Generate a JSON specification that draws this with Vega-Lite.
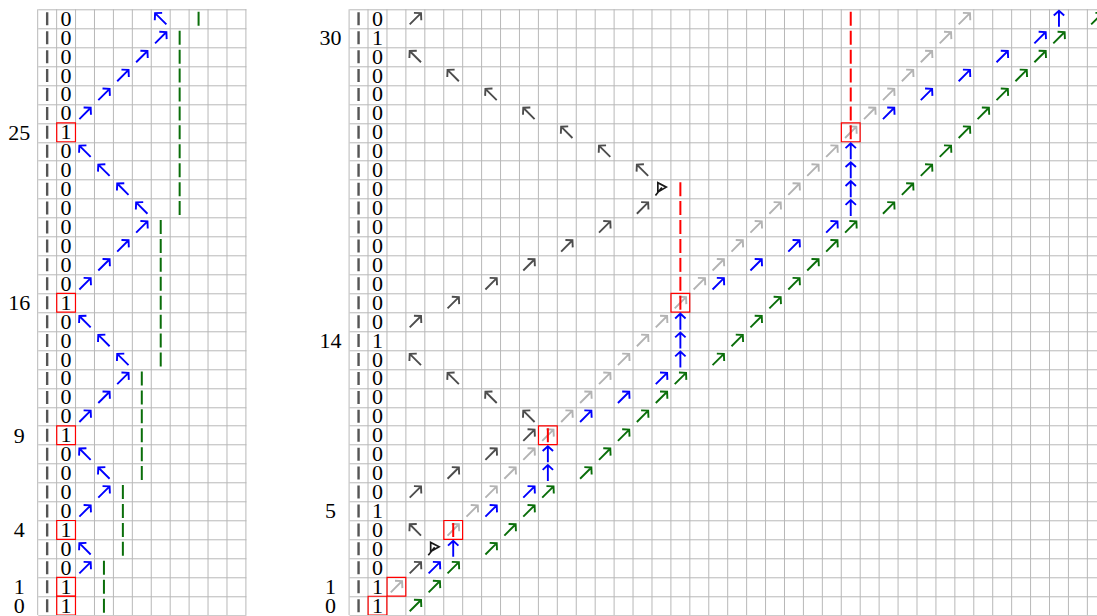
{
  "$schema": "https://vega.github.io/schema/vega-lite/v6.json",
  "padding": {"left": 7.7, "top": 8.3, "right": 0, "bottom": 0},
  "background": "white",
  "config": {"view": {"stroke": null}},
  "spacing": 102.4,
  "bounds": "flush",
  "datasets": {
    "vlines": [
      {"p":"L","g":-0.5},{"p":"L","g":0.5},{"p":"L","g":1.5},{"p":"L","g":2.5},{"p":"L","g":3.5},{"p":"L","g":4.5},
      {"p":"L","g":5.5},{"p":"L","g":6.5},{"p":"L","g":7.5},{"p":"L","g":8.5},{"p":"L","g":9.5},{"p":"L","g":10.5},
      {"p":"R","g":-0.5},{"p":"R","g":0.5},{"p":"R","g":1.5},{"p":"R","g":2.5},{"p":"R","g":3.5},{"p":"R","g":4.5},
      {"p":"R","g":5.5},{"p":"R","g":6.5},{"p":"R","g":7.5},{"p":"R","g":8.5},{"p":"R","g":9.5},{"p":"R","g":10.5},
      {"p":"R","g":11.5},{"p":"R","g":12.5},{"p":"R","g":13.5},{"p":"R","g":14.5},{"p":"R","g":15.5},{"p":"R","g":16.5},
      {"p":"R","g":17.5},{"p":"R","g":18.5},{"p":"R","g":19.5},{"p":"R","g":20.5},{"p":"R","g":21.5},{"p":"R","g":22.5},
      {"p":"R","g":23.5},{"p":"R","g":24.5},{"p":"R","g":25.5},{"p":"R","g":26.5},{"p":"R","g":27.5},{"p":"R","g":28.5},
      {"p":"R","g":29.5},{"p":"R","g":30.5},{"p":"R","g":31.5},{"p":"R","g":32.5},{"p":"R","g":33.5},{"p":"R","g":34.5},
      {"p":"R","g":35.5},{"p":"R","g":36.5},{"p":"R","g":37.5},{"p":"R","g":38.5}
    ],
    "digits": [
      {"p":"L","row":0,"d":"1"},{"p":"L","row":1,"d":"1"},{"p":"L","row":2,"d":"0"},{"p":"L","row":3,"d":"0"},
      {"p":"L","row":4,"d":"1"},{"p":"L","row":5,"d":"0"},{"p":"L","row":6,"d":"0"},{"p":"L","row":7,"d":"0"},
      {"p":"L","row":8,"d":"0"},{"p":"L","row":9,"d":"1"},{"p":"L","row":10,"d":"0"},{"p":"L","row":11,"d":"0"},
      {"p":"L","row":12,"d":"0"},{"p":"L","row":13,"d":"0"},{"p":"L","row":14,"d":"0"},{"p":"L","row":15,"d":"0"},
      {"p":"L","row":16,"d":"1"},{"p":"L","row":17,"d":"0"},{"p":"L","row":18,"d":"0"},{"p":"L","row":19,"d":"0"},
      {"p":"L","row":20,"d":"0"},{"p":"L","row":21,"d":"0"},{"p":"L","row":22,"d":"0"},{"p":"L","row":23,"d":"0"},
      {"p":"L","row":24,"d":"0"},{"p":"L","row":25,"d":"1"},{"p":"L","row":26,"d":"0"},{"p":"L","row":27,"d":"0"},
      {"p":"L","row":28,"d":"0"},{"p":"L","row":29,"d":"0"},{"p":"L","row":30,"d":"0"},{"p":"L","row":31,"d":"0"},
      {"p":"R","row":0,"d":"1"},{"p":"R","row":1,"d":"1"},{"p":"R","row":2,"d":"0"},{"p":"R","row":3,"d":"0"},
      {"p":"R","row":4,"d":"0"},{"p":"R","row":5,"d":"1"},{"p":"R","row":6,"d":"0"},{"p":"R","row":7,"d":"0"},
      {"p":"R","row":8,"d":"0"},{"p":"R","row":9,"d":"0"},{"p":"R","row":10,"d":"0"},{"p":"R","row":11,"d":"0"},
      {"p":"R","row":12,"d":"0"},{"p":"R","row":13,"d":"0"},{"p":"R","row":14,"d":"1"},{"p":"R","row":15,"d":"0"},
      {"p":"R","row":16,"d":"0"},{"p":"R","row":17,"d":"0"},{"p":"R","row":18,"d":"0"},{"p":"R","row":19,"d":"0"},
      {"p":"R","row":20,"d":"0"},{"p":"R","row":21,"d":"0"},{"p":"R","row":22,"d":"0"},{"p":"R","row":23,"d":"0"},
      {"p":"R","row":24,"d":"0"},{"p":"R","row":25,"d":"0"},{"p":"R","row":26,"d":"0"},{"p":"R","row":27,"d":"0"},
      {"p":"R","row":28,"d":"0"},{"p":"R","row":29,"d":"0"},{"p":"R","row":30,"d":"1"},{"p":"R","row":31,"d":"0"}
    ],
    "boxes": [
      {"p":"L","col":1,"row":0},{"p":"L","col":1,"row":1},{"p":"L","col":1,"row":4},{"p":"L","col":1,"row":9},
      {"p":"L","col":1,"row":16},{"p":"L","col":1,"row":25},
      {"p":"R","col":1,"row":0},{"p":"R","col":2,"row":1},{"p":"R","col":5,"row":4},{"p":"R","col":10,"row":9},
      {"p":"R","col":17,"row":16},{"p":"R","col":26,"row":25}
    ],
    "marks": [
      {"p":"L","row":2,"col":2,"kind":"blue","dir":"ne"},{"p":"L","row":3,"col":2,"kind":"blue","dir":"nw"},
      {"p":"L","row":5,"col":2,"kind":"blue","dir":"ne"},{"p":"L","row":6,"col":3,"kind":"blue","dir":"ne"},
      {"p":"L","row":7,"col":3,"kind":"blue","dir":"nw"},{"p":"L","row":8,"col":2,"kind":"blue","dir":"nw"},
      {"p":"L","row":10,"col":2,"kind":"blue","dir":"ne"},{"p":"L","row":11,"col":3,"kind":"blue","dir":"ne"},
      {"p":"L","row":12,"col":4,"kind":"blue","dir":"ne"},{"p":"L","row":13,"col":4,"kind":"blue","dir":"nw"},
      {"p":"L","row":14,"col":3,"kind":"blue","dir":"nw"},{"p":"L","row":15,"col":2,"kind":"blue","dir":"nw"},
      {"p":"L","row":17,"col":2,"kind":"blue","dir":"ne"},{"p":"L","row":18,"col":3,"kind":"blue","dir":"ne"},
      {"p":"L","row":19,"col":4,"kind":"blue","dir":"ne"},{"p":"L","row":20,"col":5,"kind":"blue","dir":"ne"},
      {"p":"L","row":21,"col":5,"kind":"blue","dir":"nw"},{"p":"L","row":22,"col":4,"kind":"blue","dir":"nw"},
      {"p":"L","row":23,"col":3,"kind":"blue","dir":"nw"},{"p":"L","row":24,"col":2,"kind":"blue","dir":"nw"},
      {"p":"L","row":26,"col":2,"kind":"blue","dir":"ne"},{"p":"L","row":27,"col":3,"kind":"blue","dir":"ne"},
      {"p":"L","row":28,"col":4,"kind":"blue","dir":"ne"},{"p":"L","row":29,"col":5,"kind":"blue","dir":"ne"},
      {"p":"L","row":30,"col":6,"kind":"blue","dir":"ne"},{"p":"L","row":31,"col":6,"kind":"blue","dir":"nw"},
      {"p":"L","row":0,"col":3,"kind":"green","dir":"bar"},{"p":"L","row":1,"col":3,"kind":"green","dir":"bar"},
      {"p":"L","row":2,"col":3,"kind":"green","dir":"bar"},{"p":"L","row":3,"col":4,"kind":"green","dir":"bar"},
      {"p":"L","row":4,"col":4,"kind":"green","dir":"bar"},{"p":"L","row":5,"col":4,"kind":"green","dir":"bar"},
      {"p":"L","row":6,"col":4,"kind":"green","dir":"bar"},{"p":"L","row":7,"col":5,"kind":"green","dir":"bar"},
      {"p":"L","row":8,"col":5,"kind":"green","dir":"bar"},{"p":"L","row":9,"col":5,"kind":"green","dir":"bar"},
      {"p":"L","row":10,"col":5,"kind":"green","dir":"bar"},{"p":"L","row":11,"col":5,"kind":"green","dir":"bar"},
      {"p":"L","row":12,"col":5,"kind":"green","dir":"bar"},{"p":"L","row":13,"col":6,"kind":"green","dir":"bar"},
      {"p":"L","row":14,"col":6,"kind":"green","dir":"bar"},{"p":"L","row":15,"col":6,"kind":"green","dir":"bar"},
      {"p":"L","row":16,"col":6,"kind":"green","dir":"bar"},{"p":"L","row":17,"col":6,"kind":"green","dir":"bar"},
      {"p":"L","row":18,"col":6,"kind":"green","dir":"bar"},{"p":"L","row":19,"col":6,"kind":"green","dir":"bar"},
      {"p":"L","row":20,"col":6,"kind":"green","dir":"bar"},{"p":"L","row":21,"col":7,"kind":"green","dir":"bar"},
      {"p":"L","row":22,"col":7,"kind":"green","dir":"bar"},{"p":"L","row":23,"col":7,"kind":"green","dir":"bar"},
      {"p":"L","row":24,"col":7,"kind":"green","dir":"bar"},{"p":"L","row":25,"col":7,"kind":"green","dir":"bar"},
      {"p":"L","row":26,"col":7,"kind":"green","dir":"bar"},{"p":"L","row":27,"col":7,"kind":"green","dir":"bar"},
      {"p":"L","row":28,"col":7,"kind":"green","dir":"bar"},{"p":"L","row":29,"col":7,"kind":"green","dir":"bar"},
      {"p":"L","row":30,"col":7,"kind":"green","dir":"bar"},{"p":"L","row":31,"col":8,"kind":"green","dir":"bar"},

      {"p":"R","row":2,"col":3,"kind":"dark","dir":"ne"},{"p":"R","row":3,"col":4,"kind":"black","dir":"x"},
      {"p":"R","row":4,"col":3,"kind":"dark","dir":"nw"},{"p":"R","row":6,"col":3,"kind":"dark","dir":"ne"},
      {"p":"R","row":7,"col":5,"kind":"dark","dir":"ne"},{"p":"R","row":8,"col":7,"kind":"dark","dir":"ne"},
      {"p":"R","row":9,"col":9,"kind":"dark","dir":"ne"},{"p":"R","row":10,"col":9,"kind":"dark","dir":"nw"},
      {"p":"R","row":11,"col":7,"kind":"dark","dir":"nw"},{"p":"R","row":12,"col":5,"kind":"dark","dir":"nw"},
      {"p":"R","row":13,"col":3,"kind":"dark","dir":"nw"},{"p":"R","row":15,"col":3,"kind":"dark","dir":"ne"},
      {"p":"R","row":16,"col":5,"kind":"dark","dir":"ne"},{"p":"R","row":17,"col":7,"kind":"dark","dir":"ne"},
      {"p":"R","row":18,"col":9,"kind":"dark","dir":"ne"},{"p":"R","row":19,"col":11,"kind":"dark","dir":"ne"},
      {"p":"R","row":20,"col":13,"kind":"dark","dir":"ne"},{"p":"R","row":21,"col":15,"kind":"dark","dir":"ne"},
      {"p":"R","row":22,"col":16,"kind":"black","dir":"x"},{"p":"R","row":23,"col":15,"kind":"dark","dir":"nw"},
      {"p":"R","row":24,"col":13,"kind":"dark","dir":"nw"},{"p":"R","row":25,"col":11,"kind":"dark","dir":"nw"},
      {"p":"R","row":26,"col":9,"kind":"dark","dir":"nw"},{"p":"R","row":27,"col":7,"kind":"dark","dir":"nw"},
      {"p":"R","row":28,"col":5,"kind":"dark","dir":"nw"},{"p":"R","row":29,"col":3,"kind":"dark","dir":"nw"},
      {"p":"R","row":31,"col":3,"kind":"dark","dir":"ne"},

      {"p":"R","row":1,"col":2,"kind":"light","dir":"ne"},{"p":"R","row":4,"col":5,"kind":"light","dir":"ne"},
      {"p":"R","row":5,"col":6,"kind":"light","dir":"ne"},{"p":"R","row":6,"col":7,"kind":"light","dir":"ne"},
      {"p":"R","row":7,"col":8,"kind":"light","dir":"ne"},{"p":"R","row":8,"col":9,"kind":"light","dir":"ne"},
      {"p":"R","row":9,"col":10,"kind":"light","dir":"ne"},{"p":"R","row":10,"col":11,"kind":"light","dir":"ne"},
      {"p":"R","row":11,"col":12,"kind":"light","dir":"ne"},{"p":"R","row":12,"col":13,"kind":"light","dir":"ne"},
      {"p":"R","row":13,"col":14,"kind":"light","dir":"ne"},{"p":"R","row":14,"col":15,"kind":"light","dir":"ne"},
      {"p":"R","row":15,"col":16,"kind":"light","dir":"ne"},{"p":"R","row":16,"col":17,"kind":"light","dir":"ne"},
      {"p":"R","row":17,"col":18,"kind":"light","dir":"ne"},{"p":"R","row":18,"col":19,"kind":"light","dir":"ne"},
      {"p":"R","row":19,"col":20,"kind":"light","dir":"ne"},{"p":"R","row":20,"col":21,"kind":"light","dir":"ne"},
      {"p":"R","row":21,"col":22,"kind":"light","dir":"ne"},{"p":"R","row":22,"col":23,"kind":"light","dir":"ne"},
      {"p":"R","row":23,"col":24,"kind":"light","dir":"ne"},{"p":"R","row":24,"col":25,"kind":"light","dir":"ne"},
      {"p":"R","row":25,"col":26,"kind":"light","dir":"ne"},{"p":"R","row":26,"col":27,"kind":"light","dir":"ne"},
      {"p":"R","row":27,"col":28,"kind":"light","dir":"ne"},{"p":"R","row":28,"col":29,"kind":"light","dir":"ne"},
      {"p":"R","row":29,"col":30,"kind":"light","dir":"ne"},{"p":"R","row":30,"col":31,"kind":"light","dir":"ne"},
      {"p":"R","row":31,"col":32,"kind":"light","dir":"ne"},

      {"p":"R","row":2,"col":4,"kind":"blue","dir":"ne"},{"p":"R","row":3,"col":5,"kind":"blue","dir":"n"},
      {"p":"R","row":5,"col":7,"kind":"blue","dir":"ne"},{"p":"R","row":6,"col":9,"kind":"blue","dir":"ne"},
      {"p":"R","row":7,"col":10,"kind":"blue","dir":"n"},{"p":"R","row":8,"col":10,"kind":"blue","dir":"n"},
      {"p":"R","row":10,"col":12,"kind":"blue","dir":"ne"},{"p":"R","row":11,"col":14,"kind":"blue","dir":"ne"},
      {"p":"R","row":12,"col":16,"kind":"blue","dir":"ne"},{"p":"R","row":13,"col":17,"kind":"blue","dir":"n"},
      {"p":"R","row":14,"col":17,"kind":"blue","dir":"n"},{"p":"R","row":15,"col":17,"kind":"blue","dir":"n"},
      {"p":"R","row":17,"col":19,"kind":"blue","dir":"ne"},{"p":"R","row":18,"col":21,"kind":"blue","dir":"ne"},
      {"p":"R","row":19,"col":23,"kind":"blue","dir":"ne"},{"p":"R","row":20,"col":25,"kind":"blue","dir":"ne"},
      {"p":"R","row":21,"col":26,"kind":"blue","dir":"n"},{"p":"R","row":22,"col":26,"kind":"blue","dir":"n"},
      {"p":"R","row":23,"col":26,"kind":"blue","dir":"n"},{"p":"R","row":24,"col":26,"kind":"blue","dir":"n"},
      {"p":"R","row":26,"col":28,"kind":"blue","dir":"ne"},{"p":"R","row":27,"col":30,"kind":"blue","dir":"ne"},
      {"p":"R","row":28,"col":32,"kind":"blue","dir":"ne"},{"p":"R","row":29,"col":34,"kind":"blue","dir":"ne"},
      {"p":"R","row":30,"col":36,"kind":"blue","dir":"ne"},{"p":"R","row":31,"col":37,"kind":"blue","dir":"n"},

      {"p":"R","row":0,"col":3,"kind":"green","dir":"ne"},{"p":"R","row":1,"col":4,"kind":"green","dir":"ne"},
      {"p":"R","row":2,"col":5,"kind":"green","dir":"ne"},{"p":"R","row":3,"col":7,"kind":"green","dir":"ne"},
      {"p":"R","row":4,"col":8,"kind":"green","dir":"ne"},{"p":"R","row":5,"col":9,"kind":"green","dir":"ne"},
      {"p":"R","row":6,"col":10,"kind":"green","dir":"ne"},{"p":"R","row":7,"col":12,"kind":"green","dir":"ne"},
      {"p":"R","row":8,"col":13,"kind":"green","dir":"ne"},{"p":"R","row":9,"col":14,"kind":"green","dir":"ne"},
      {"p":"R","row":10,"col":15,"kind":"green","dir":"ne"},{"p":"R","row":11,"col":16,"kind":"green","dir":"ne"},
      {"p":"R","row":12,"col":17,"kind":"green","dir":"ne"},{"p":"R","row":13,"col":19,"kind":"green","dir":"ne"},
      {"p":"R","row":14,"col":20,"kind":"green","dir":"ne"},{"p":"R","row":15,"col":21,"kind":"green","dir":"ne"},
      {"p":"R","row":16,"col":22,"kind":"green","dir":"ne"},{"p":"R","row":17,"col":23,"kind":"green","dir":"ne"},
      {"p":"R","row":18,"col":24,"kind":"green","dir":"ne"},{"p":"R","row":19,"col":25,"kind":"green","dir":"ne"},
      {"p":"R","row":20,"col":26,"kind":"green","dir":"ne"},{"p":"R","row":21,"col":28,"kind":"green","dir":"ne"},
      {"p":"R","row":22,"col":29,"kind":"green","dir":"ne"},{"p":"R","row":23,"col":30,"kind":"green","dir":"ne"},
      {"p":"R","row":24,"col":31,"kind":"green","dir":"ne"},{"p":"R","row":25,"col":32,"kind":"green","dir":"ne"},
      {"p":"R","row":26,"col":33,"kind":"green","dir":"ne"},{"p":"R","row":27,"col":34,"kind":"green","dir":"ne"},
      {"p":"R","row":28,"col":35,"kind":"green","dir":"ne"},{"p":"R","row":29,"col":36,"kind":"green","dir":"ne"},
      {"p":"R","row":30,"col":37,"kind":"green","dir":"ne"},{"p":"R","row":31,"col":39,"kind":"green","dir":"ne"},

      {"p":"R","row":4,"col":5,"kind":"red","dir":"bar"},{"p":"R","row":9,"col":10,"kind":"red","dir":"bar"},
      {"p":"R","row":16,"col":17,"kind":"red","dir":"bar"},{"p":"R","row":17,"col":17,"kind":"red","dir":"bar"},
      {"p":"R","row":18,"col":17,"kind":"red","dir":"bar"},{"p":"R","row":19,"col":17,"kind":"red","dir":"bar"},
      {"p":"R","row":20,"col":17,"kind":"red","dir":"bar"},{"p":"R","row":21,"col":17,"kind":"red","dir":"bar"},
      {"p":"R","row":22,"col":17,"kind":"red","dir":"bar"},
      {"p":"R","row":25,"col":26,"kind":"red","dir":"bar"},{"p":"R","row":26,"col":26,"kind":"red","dir":"bar"},
      {"p":"R","row":27,"col":26,"kind":"red","dir":"bar"},{"p":"R","row":28,"col":26,"kind":"red","dir":"bar"},
      {"p":"R","row":29,"col":26,"kind":"red","dir":"bar"},{"p":"R","row":30,"col":26,"kind":"red","dir":"bar"},
      {"p":"R","row":31,"col":26,"kind":"red","dir":"bar"}
    ]
  },
  "hconcat": [
    {
      "width": 208.2,
      "height": 605.8,
      "resolve": {"axis": {"y": "independent"}},
      "layer": [
        {
          "data": {"name": "vlines"},
          "transform": [{"filter": "datum.p == 'L'"}],
          "mark": {"type": "rule", "color": "#b8b8b8", "strokeWidth": 1},
          "encoding": {
            "x": {"field": "g", "type": "quantitative", "scale": {"domain": [-0.5, 10.5], "nice": false, "zero": false}, "axis": null}
          }
        },
        {
          "data": {"name": "boxes"},
          "transform": [{"filter": "datum.p == 'L'"}],
          "mark": {"type": "square", "filled": false, "size": 352, "stroke": "#ff0000", "strokeWidth": 1.2, "opacity": 1, "clip": true},
          "encoding": {
            "x": {"field": "col", "type": "quantitative", "axis": null},
            "y": {"field": "row", "type": "quantitative", "scale": {"domain": [-0.5, 31.5], "nice": false, "zero": false},
              "axis": {"values": [-0.5,0.5,1.5,2.5,3.5,4.5,5.5,6.5,7.5,8.5,9.5,10.5,11.5,12.5,13.5,14.5,15.5,16.5,17.5,18.5,19.5,20.5,21.5,22.5,23.5,24.5,25.5,26.5,27.5,28.5,29.5,30.5,31.5], "grid": true, "labels": false, "ticks": false, "domain": false, "title": null, "gridColor": "#b8b8b8", "gridWidth": 1, "orient": "left", "minExtent": 0}}
          }
        },
        {
          "data": {"name": "digits"},
          "transform": [{"filter": "datum.p == 'L'"}],
          "mark": {"type": "tick", "orient": "vertical", "size": 13, "thickness": 2.4, "color": "#555555", "opacity": 1, "clip": true},
          "encoding": {
            "x": {"datum": 0, "type": "quantitative", "axis": null},
            "y": {"field": "row", "type": "quantitative",
              "axis": {"values": [0, 1, 4, 9, 16, 25], "grid": false, "ticks": false, "tickSize": 0, "domain": false, "title": null, "labelFont": "Liberation Serif", "labelFontSize": 22, "labelColor": "#000000", "labelAlign": "center", "labelBaseline": "middle", "labelPadding": 19, "labelOverlap": false, "labelFlush": false, "orient": "left", "minExtent": 0}}
          }
        },
        {
          "data": {"name": "digits"},
          "transform": [{"filter": "datum.p == 'L'"}],
          "mark": {"type": "text", "font": "Liberation Serif", "fontSize": 22, "align": "center", "baseline": "middle", "color": "#000000", "clip": true},
          "encoding": {
            "x": {"datum": 1, "type": "quantitative", "axis": null},
            "y": {"field": "row", "type": "quantitative", "axis": null},
            "text": {"field": "d"}
          }
        },
        {
          "data": {"name": "marks"},
          "transform": [{"filter": "datum.p == 'L' && datum.dir == 'ne'"}],
          "mark": {"type": "point", "shape": "M0,1L0,-1M-0.65,-0.4L0,-1L0.65,-0.4", "angle": 45, "filled": false, "size": 256, "strokeWidth": 1.9, "opacity": 1, "clip": true},
          "encoding": {
            "x": {"field": "col", "type": "quantitative", "axis": null},
            "y": {"field": "row", "type": "quantitative", "axis": null},
            "color": {"field": "kind", "type": "nominal", "scale": {"domain": ["dark", "black", "light", "blue", "green", "red"], "range": ["#4d4d4d", "#1a1a1a", "#b3b3b3", "#0000ff", "#0a6e0a", "#ff0000"]}, "legend": null}
          }
        },
        {
          "data": {"name": "marks"},
          "transform": [{"filter": "datum.p == 'L' && datum.dir == 'nw'"}],
          "mark": {"type": "point", "shape": "M0,1L0,-1M-0.65,-0.4L0,-1L0.65,-0.4", "angle": 315, "filled": false, "size": 256, "strokeWidth": 1.9, "opacity": 1, "clip": true},
          "encoding": {
            "x": {"field": "col", "type": "quantitative", "axis": null},
            "y": {"field": "row", "type": "quantitative", "axis": null},
            "color": {"field": "kind", "type": "nominal", "legend": null}
          }
        },
        {
          "data": {"name": "marks"},
          "transform": [{"filter": "datum.p == 'L' && datum.dir == 'bar'"}],
          "mark": {"type": "tick", "orient": "vertical", "size": 14, "thickness": 2, "opacity": 1, "clip": true},
          "encoding": {
            "x": {"field": "col", "type": "quantitative", "axis": null},
            "y": {"field": "row", "type": "quantitative", "axis": null},
            "color": {"field": "kind", "type": "nominal", "legend": null}
          }
        }
      ]
    },
    {
      "width": 748.5,
      "height": 605.8,
      "resolve": {"axis": {"y": "independent"}},
      "layer": [
        {
          "data": {"name": "vlines"},
          "transform": [{"filter": "datum.p == 'R'"}],
          "mark": {"type": "rule", "color": "#b8b8b8", "strokeWidth": 1},
          "encoding": {
            "x": {"field": "g", "type": "quantitative", "scale": {"domain": [-0.5, 39.04], "nice": false, "zero": false}, "axis": null}
          }
        },
        {
          "data": {"name": "boxes"},
          "transform": [{"filter": "datum.p == 'R'"}],
          "mark": {"type": "square", "filled": false, "size": 352, "stroke": "#ff0000", "strokeWidth": 1.2, "opacity": 1, "clip": true},
          "encoding": {
            "x": {"field": "col", "type": "quantitative", "axis": null},
            "y": {"field": "row", "type": "quantitative", "scale": {"domain": [-0.5, 31.5], "nice": false, "zero": false},
              "axis": {"values": [-0.5,0.5,1.5,2.5,3.5,4.5,5.5,6.5,7.5,8.5,9.5,10.5,11.5,12.5,13.5,14.5,15.5,16.5,17.5,18.5,19.5,20.5,21.5,22.5,23.5,24.5,25.5,26.5,27.5,28.5,29.5,30.5,31.5], "grid": true, "labels": false, "ticks": false, "domain": false, "title": null, "gridColor": "#b8b8b8", "gridWidth": 1, "orient": "left", "minExtent": 0}}
          }
        },
        {
          "data": {"name": "digits"},
          "transform": [{"filter": "datum.p == 'R'"}],
          "mark": {"type": "tick", "orient": "vertical", "size": 13, "thickness": 2.4, "color": "#555555", "opacity": 1, "clip": true},
          "encoding": {
            "x": {"datum": 0, "type": "quantitative", "axis": null},
            "y": {"field": "row", "type": "quantitative",
              "axis": {"values": [0, 1, 5, 14, 30], "grid": false, "ticks": false, "tickSize": 0, "domain": false, "title": null, "labelFont": "Liberation Serif", "labelFontSize": 22, "labelColor": "#000000", "labelAlign": "center", "labelBaseline": "middle", "labelPadding": 19, "labelOverlap": false, "labelFlush": false, "orient": "left", "minExtent": 0}}
          }
        },
        {
          "data": {"name": "digits"},
          "transform": [{"filter": "datum.p == 'R'"}],
          "mark": {"type": "text", "font": "Liberation Serif", "fontSize": 22, "align": "center", "baseline": "middle", "color": "#000000", "clip": true},
          "encoding": {
            "x": {"datum": 1, "type": "quantitative", "axis": null},
            "y": {"field": "row", "type": "quantitative", "axis": null},
            "text": {"field": "d"}
          }
        },
        {
          "data": {"name": "marks"},
          "transform": [{"filter": "datum.p == 'R' && datum.dir == 'ne'"}],
          "mark": {"type": "point", "shape": "M0,1L0,-1M-0.65,-0.4L0,-1L0.65,-0.4", "angle": 45, "filled": false, "size": 256, "strokeWidth": 1.9, "opacity": 1, "clip": true},
          "encoding": {
            "x": {"field": "col", "type": "quantitative", "axis": null},
            "y": {"field": "row", "type": "quantitative", "axis": null},
            "color": {"field": "kind", "type": "nominal", "legend": null}
          }
        },
        {
          "data": {"name": "marks"},
          "transform": [{"filter": "datum.p == 'R' && datum.dir == 'nw'"}],
          "mark": {"type": "point", "shape": "M0,1L0,-1M-0.65,-0.4L0,-1L0.65,-0.4", "angle": 315, "filled": false, "size": 256, "strokeWidth": 1.9, "opacity": 1, "clip": true},
          "encoding": {
            "x": {"field": "col", "type": "quantitative", "axis": null},
            "y": {"field": "row", "type": "quantitative", "axis": null},
            "color": {"field": "kind", "type": "nominal", "legend": null}
          }
        },
        {
          "data": {"name": "marks"},
          "transform": [{"filter": "datum.p == 'R' && datum.dir == 'n'"}],
          "mark": {"type": "point", "shape": "M0,1L0,-1M-0.65,-0.4L0,-1L0.65,-0.4", "angle": 0, "filled": false, "size": 256, "strokeWidth": 1.9, "opacity": 1, "clip": true},
          "encoding": {
            "x": {"field": "col", "type": "quantitative", "axis": null},
            "y": {"field": "row", "type": "quantitative", "axis": null},
            "color": {"field": "kind", "type": "nominal", "legend": null}
          }
        },
        {
          "data": {"name": "marks"},
          "transform": [{"filter": "datum.p == 'R' && datum.dir == 'x'"}],
          "mark": {"type": "point", "shape": "M-0.45,-0.8L-0.45,0.35L0.6,-0.25ZM-0.75,0.8L0.05,-0.2", "angle": 0, "filled": false, "size": 256, "strokeWidth": 1.7, "opacity": 1, "clip": true},
          "encoding": {
            "x": {"field": "col", "type": "quantitative", "axis": null},
            "y": {"field": "row", "type": "quantitative", "axis": null},
            "color": {"field": "kind", "type": "nominal", "legend": null}
          }
        },
        {
          "data": {"name": "marks"},
          "transform": [{"filter": "datum.p == 'R' && datum.dir == 'bar'"}],
          "mark": {"type": "tick", "orient": "vertical", "size": 14, "thickness": 2, "opacity": 1, "clip": true},
          "encoding": {
            "x": {"field": "col", "type": "quantitative", "axis": null},
            "y": {"field": "row", "type": "quantitative", "axis": null},
            "color": {"field": "kind", "type": "nominal", "legend": null}
          }
        }
      ]
    }
  ]
}
